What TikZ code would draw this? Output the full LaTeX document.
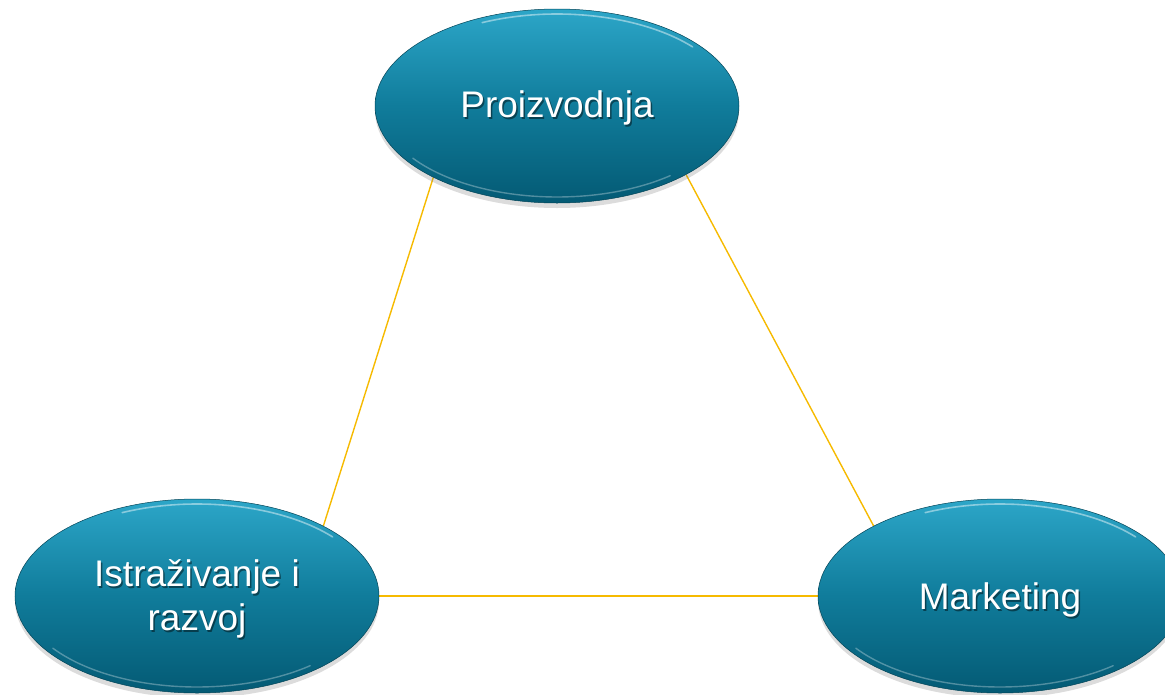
\documentclass[tikz,border=0pt]{standalone}
\usepackage{fontspec}
\setmainfont{Liberation Sans}
\usetikzlibrary{shapes.geometric,shadows,backgrounds}
\definecolor{ltop}{RGB}{44,166,200}
\definecolor{lmid}{RGB}{16,124,155}
\definecolor{lbot}{RGB}{4,90,116}
\definecolor{link}{RGB}{246,186,0}
\newcommand{\glossrim}[1]{%
  \begin{scope}[shift={(#1.center)},x=1pt,y=1pt]
    \draw[white,opacity=0.45,line width=1.6pt,line cap=round] (40:177 and 92) arc[start angle=40,end angle=115,x radius=177,y radius=92];
    \draw[white,opacity=0.30,line width=1.4pt,line cap=round] (215:176 and 91) arc[start angle=215,end angle=310,x radius=176,y radius=91];
  \end{scope}}
\begin{document}
\begin{tikzpicture}[x=1pt,y=-1pt,
  blob/.style={ellipse,minimum width=364pt,minimum height=194pt,inner sep=0pt,
    top color=ltop,bottom color=lbot,middle color=lmid,
    draw=lbot!75!black,line width=0.5pt,
    drop shadow={shadow xshift=0pt,shadow yshift=-5pt,opacity=0.28}},
  lbl/.style={text=white,font=\fontsize{37}{44}\selectfont,align=center,inner sep=0pt},
  lblshadow/.style={text=black,opacity=0.45,font=\fontsize{37}{44}\selectfont,align=center,inner sep=0pt},
  linkline/.style={draw=link,line width=1.4pt}]
\useasboundingbox (0,0) rectangle (1165,694);
\clip (0,0) rectangle (1165,694);
\node[blob] (P) at (557,106) {};
\node[blob] (I) at (197,596) {};
\node[blob] (M) at (1000,596) {};
\glossrim{P}
\glossrim{I}
\glossrim{M}
\node[lblshadow] (Ps) at (558.5,109.5) {Proizvodnja};
\node[lbl] (Pt) at (557,108) {Proizvodnja};
\node[lblshadow] (Is) at (198.5,600.5) {Istraživanje i\\razvoj};
\node[lbl] (It) at (197,599) {Istraživanje i\\razvoj};
\node[lblshadow] (Ms) at (1001.5,601.5) {Marketing};
\node[lbl] (Mt) at (1000,600) {Marketing};
\begin{pgfonlayer}{background}
\draw[linkline] (P.210) -- (I.29);
\draw[linkline] (P.332) -- (M.151);
\draw[linkline] (I.east) -- (M.west);
\end{pgfonlayer}
\end{tikzpicture}
\end{document}
